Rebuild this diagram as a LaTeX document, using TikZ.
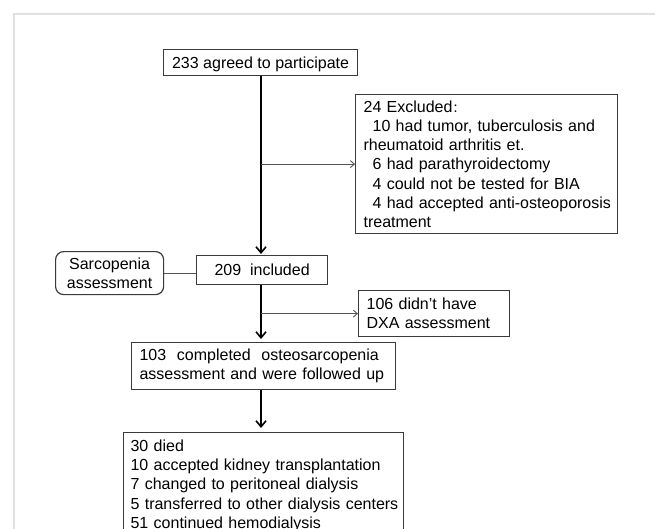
\documentclass[tikz,border=0pt]{standalone}
\usepackage{fontspec}
\setmainfont{Liberation Sans}
\newfontfamily\cjk{Noto Sans CJK SC}
\usetikzlibrary{arrows.meta}
\definecolor{boxcol}{HTML}{3A3A3A}
\definecolor{branchcol}{HTML}{555555}
\definecolor{framecol}{HTML}{E0E0E0}
\newcommand\oneline[1]{\mbox{#1}}
\begin{document}
\begin{tikzpicture}[x=1pt,y=-1pt,
  box/.style={draw=boxcol, line width=1.2pt, inner sep=0pt, anchor=north west,
    font=\fontsize{16}{19.2}\selectfont},
  mainarrow/.style={line width=2pt, -{Straight Barb[length=6pt,width=10pt,line width=1.6pt]}},
  branch/.style={draw=branchcol, line width=1pt, -{Straight Barb[length=4pt,width=7pt,line width=0.9pt]}},
  link/.style={draw=branchcol, line width=1pt}]
\useasboundingbox (0,0) rectangle (655,529);
\clip (0,0) rectangle (655,529);
\fill[white] (0,0) rectangle (655,529);
% frame
\draw[framecol, line width=1.5pt] (14,529) -- (14,14) -- (655,14);

\coordinate (spine) at (261,0);

\node[box, minimum width=194pt, minimum height=26pt, text depth=0pt] (agree) at (163,49) {233 agreed to participate};

\node[box, text width=246pt, inner xsep=8pt, minimum height=139pt, align=left] (excl) at (355,94)
 {\oneline{24 Excluded{\cjk\fontsize{12}{12}\selectfont ：}}\\
  \oneline{\hspace*{9pt}10 had tumor, tuberculosis and}\\
  \oneline{rheumatoid arthritis et.}\\
  \oneline{\hspace*{9pt}6 had parathyroidectomy}\\
  \oneline{\hspace*{9pt}4 could not be tested for BIA}\\
  \oneline{\hspace*{9pt}4 had accepted anti-osteoporosis}\\
  \oneline{treatment}};

\node[box, rounded corners=8pt, minimum width=108pt, minimum height=43pt, align=center] (sarc) at (55,251) {Sarcopenia\\assessment};

\node[box, minimum width=131pt, minimum height=29pt, text depth=0pt] (incl) at (196,255) {209~ included};

\node[box, text width=135pt, inner xsep=8pt, minimum height=46pt, align=left] (dxa) at (358,290)
 {\oneline{106 didn’t have}\\\oneline{DXA assessment}};

\node[box, text width=248pt, inner xsep=8pt, minimum height=47pt, align=left] (osteo) at (131,342)
 {\oneline{103~ completed~ osteosarcopenia}\\\oneline{assessment and were followed up}};

\node[box, text width=266pt, inner xsep=7pt, inner ysep=7.3pt, align=left] (follow) at (123,432)
 {\oneline{30 died}\\
  \oneline{10 accepted kidney transplantation}\\
  \oneline{7 changed to peritoneal dialysis}\\
  \oneline{5 transferred to other dialysis centers}\\
  \oneline{51 continued hemodialysis}};

% connectors
\draw[mainarrow, shorten >=1pt] (spine |- agree.south) -- (spine |- incl.north);
\draw[branch] (spine |- excl.west) -- (excl.west);
\draw[link] (sarc.east) -- (sarc.east -| incl.west);
\draw[mainarrow, shorten >=3pt] (spine |- incl.south) -- (spine |- osteo.north);
\draw[branch] (spine |- dxa.west) -- (dxa.west);
\draw[mainarrow, shorten >=4pt] (spine |- osteo.south) -- (spine |- follow.north);
\end{tikzpicture}
\end{document}
